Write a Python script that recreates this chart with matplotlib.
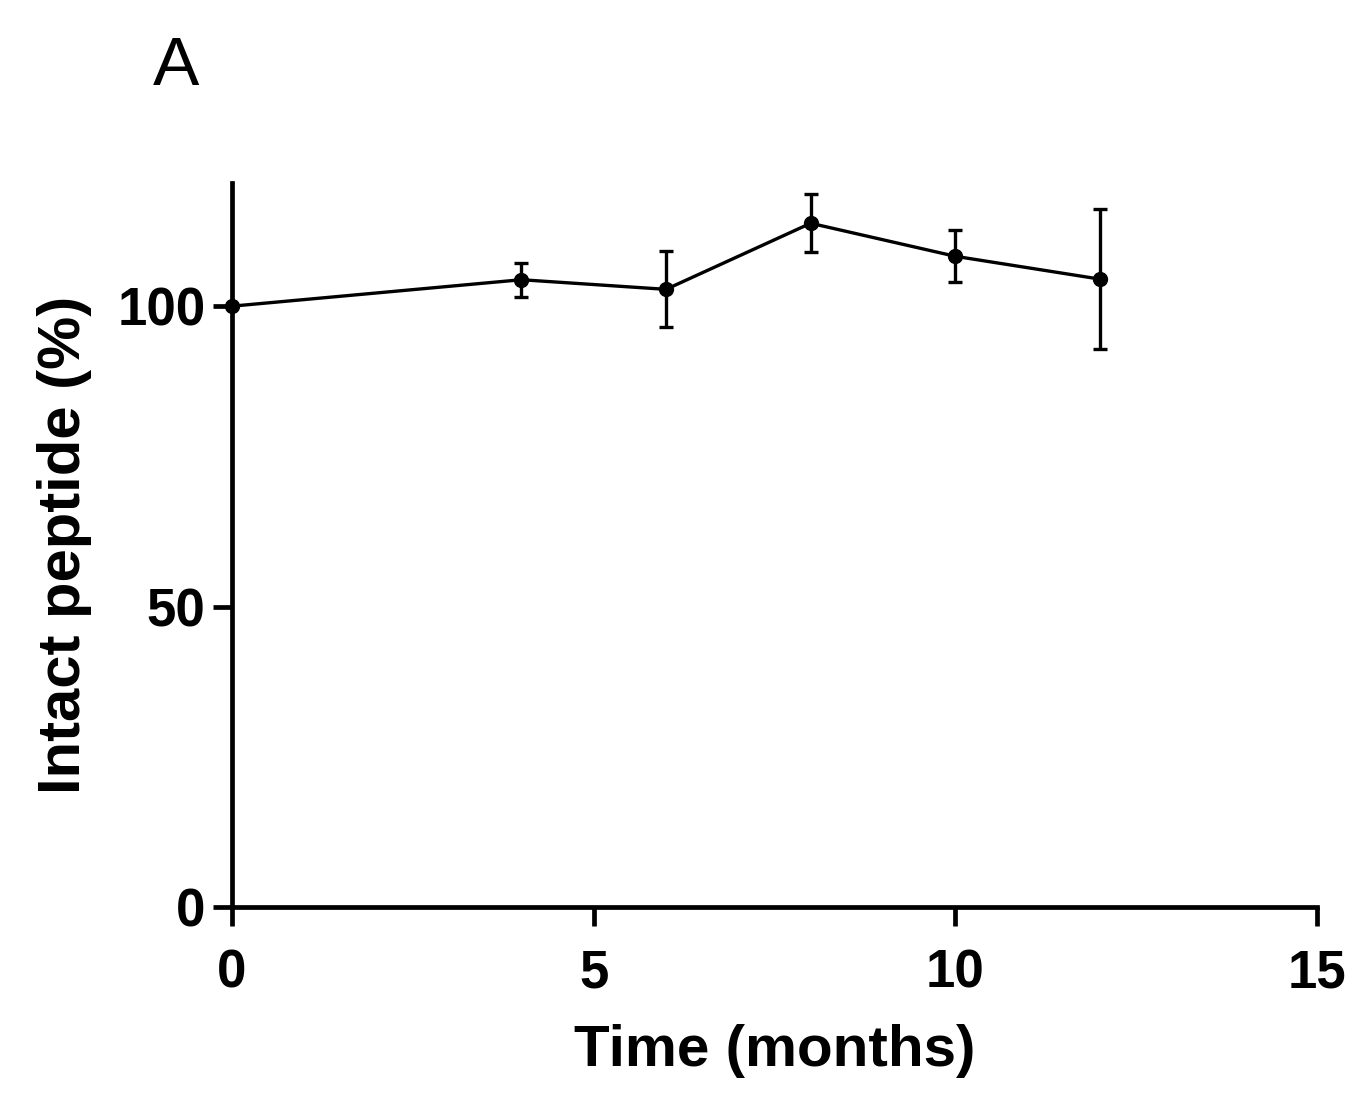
import matplotlib
matplotlib.use("Agg")
import matplotlib.pyplot as plt

# Intact peptide over storage time (mean +/- error)
months = [0, 4, 6, 8, 10, 12]
intact = [100.0, 104.4, 102.8, 113.8, 108.3, 104.5]
err = [0.0, 2.8, 6.3, 4.8, 4.3, 11.6]

x_ticks = [0, 5, 10, 15]
y_ticks = [0, 50, 100]

plt.rcParams["font.family"] = ["Liberation Sans", "DejaVu Sans"]


def main():
    fig = plt.figure(figsize=(13.69, 11.07), dpi=100)
    ax = fig.add_axes([0.16947, 0.18067, 0.79255, 0.65402])

    ax.errorbar(months, intact, yerr=err, color="black", lw=2.4,
                marker="o", ms=10, capsize=5, capthick=2.4, elinewidth=2.4,
                clip_on=False, zorder=3)

    ax.set_xlim(0, 15)
    ax.set_ylim(0, 120.5)
    ax.set_xticks(x_ticks)
    ax.set_yticks(y_ticks)

    for side in ("top", "right"):
        ax.spines[side].set_visible(False)
    for side in ("left", "bottom"):
        ax.spines[side].set_linewidth(3.4)

    ax.tick_params(width=3.4, length=14, labelsize=38, direction="out")
    ax.tick_params(axis="x", pad=16)
    ax.tick_params(axis="y", pad=5)
    for lab in ax.get_xticklabels() + ax.get_yticklabels():
        lab.set_fontweight("bold")

    ax.set_xlabel("Time (months)", fontsize=42, fontweight="bold", labelpad=18)
    ax.set_ylabel("Intact peptide (%)", fontsize=43, fontweight="bold",
                  labelpad=18)

    fig.text(176 / 1369, 1 - 67 / 1107, "A", fontsize=50,
             ha="center", va="center")

    fig.savefig("out.png", dpi=100)


if __name__ == "__main__":
    main()
